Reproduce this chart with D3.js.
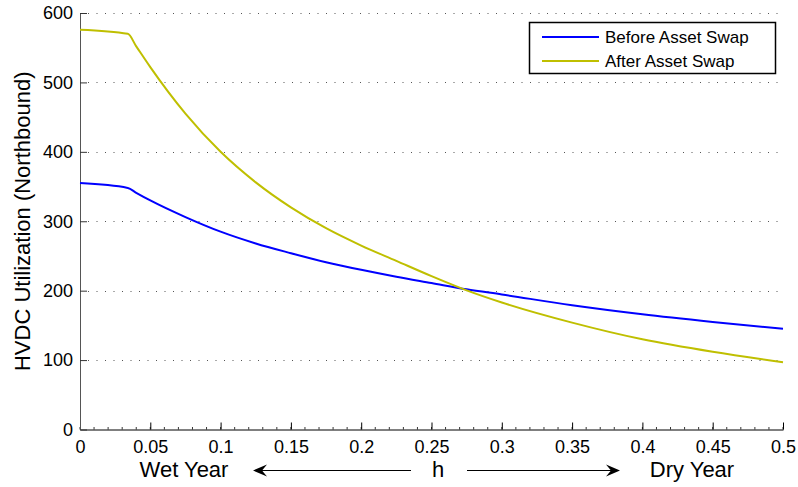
<!DOCTYPE html>
<html lang="en">
<head>
  <meta charset="UTF-8">
  <title>HVDC Utilization</title>
  <script src="https://d3js.org/d3.v7.min.js"></script>
  <style>
    body { margin: 0; background: #fff; font-family: "Liberation Sans", Arial, sans-serif; }
    svg { display: block; }
  </style>
</head>
<body>
  <svg width="798" height="487"></svg>

  <script>
    // h values
    const hValues = [0, 0.034, 0.04, 0.05, 0.075, 0.1, 0.125, 0.15, 0.175, 0.2, 0.225, 0.25, 0.275, 0.3, 0.35, 0.4, 0.45, 0.5];
    const beforeSwap = [355, 348, 341, 330, 306, 285, 268, 254, 241, 230, 220, 211, 202, 194.5, 179, 166, 155, 145];
    const afterSwap  = [576, 570, 552, 522, 455, 400, 356, 320, 290, 265, 243, 221, 200.5, 183, 154, 130, 112, 97];
    const seriesNames = ["Before Asset Swap", "After Asset Swap"];
    const seriesColors = ["#0000ff", "#bfbf00"];
    const xTicks = [0, 0.05, 0.1, 0.15, 0.2, 0.25, 0.3, 0.35, 0.4, 0.45, 0.5];
    const yTicks = [0, 100, 200, 300, 400, 500, 600];

    const svg = d3.select("svg");
    const x = d3.scaleLinear().domain([0, 0.5]).range([80, 783]);
    const y = d3.scaleLinear().domain([0, 600]).range([429.5, 13]);

    // dotted horizontal grid
    svg.append("g")
      .selectAll("line")
      .data(yTicks.filter(d => d > 0))
      .join("line")
      .attr("x1", x(0) + 8).attr("x2", x(0.5))
      .attr("y1", d => Math.round(y(d)) + 0.5).attr("y2", d => Math.round(y(d)) + 0.5)
      .attr("stroke", "#555")
      .attr("stroke-dasharray", "1,7.5");

    // x axis (ticks point up)
    const xAxis = svg.append("g")
      .attr("transform", `translate(0,${y(0)})`)
      .call(d3.axisBottom(x).tickValues(xTicks).tickSize(-7).tickFormat(d3.format("")).tickSizeOuter(0));
    xAxis.select(".domain").attr("stroke", "#000");
    xAxis.selectAll(".tick line").attr("stroke", "#000");
    xAxis.selectAll("text")
      .attr("y", 11).attr("dy", "0.71em")
      .attr("font-size", 18).attr("font-family", "Liberation Sans, Arial, sans-serif").attr("fill", "#000");

    // minor ticks
    svg.append("g")
      .selectAll("line")
      .data(d3.range(0, 51).map(i => i / 100))
      .join("line")
      .attr("x1", d => x(d)).attr("x2", d => x(d))
      .attr("y1", y(0)).attr("y2", y(0) - 2.5)
      .attr("stroke", "#000").attr("stroke-width", 0.8);

    // y axis (ticks point right)
    const yAxis = svg.append("g")
      .attr("transform", `translate(${x(0)},0)`)
      .call(d3.axisLeft(y).tickValues(yTicks).tickSize(-7).tickSizeOuter(0));
    yAxis.select(".domain").attr("stroke", "#555");
    yAxis.selectAll(".tick line").attr("stroke", "#333");
    yAxis.selectAll("text")
      .attr("x", -7)
      .attr("font-size", 18).attr("font-family", "Liberation Sans, Arial, sans-serif").attr("fill", "#000");

    // y label
    svg.append("text")
      .attr("transform", `translate(30,${(y(0) + y(600)) / 2}) rotate(-90)`)
      .attr("text-anchor", "middle")
      .attr("font-size", 22)
      .text("HVDC Utilization (Northbound)");

    // lines
    const line = d3.line()
      .x((d, i) => x(hValues[i]))
      .y(d => y(d))
      .curve(d3.curveMonotoneX);

    svg.append("g")
      .selectAll("path")
      .data([beforeSwap, afterSwap])
      .join("path")
      .attr("d", d => line(d))
      .attr("fill", "none")
      .attr("stroke", (d, i) => seriesColors[i])
      .attr("stroke-width", 2);

    // legend
    const legend = svg.append("g");
    legend.append("rect")
      .attr("x", 529.5).attr("y", 22.5).attr("width", 246).attr("height", 51)
      .attr("fill", "#fff").attr("stroke", "#000").attr("stroke-width", 1.5);
    const rows = legend.selectAll("g.row")
      .data(seriesNames)
      .join("g")
      .attr("class", "row")
      .attr("transform", (d, i) => `translate(0,${37 + i * 24})`);
    rows.append("line")
      .attr("x1", 542).attr("x2", 599)
      .attr("stroke", (d, i) => seriesColors[i]).attr("stroke-width", 2);
    rows.append("text")
      .attr("x", 605).attr("dy", "0.38em")
      .attr("font-size", 17)
      .text(d => d);

    // bottom annotation
    const ann = svg.append("g").attr("font-size", 22);
    ann.append("text").attr("x", 184).attr("y", 477).attr("text-anchor", "middle").text("Wet Year");
    ann.append("text").attr("x", 438).attr("y", 477).attr("text-anchor", "middle").text("h");
    ann.append("text").attr("x", 692).attr("y", 477).attr("text-anchor", "middle").text("Dry Year");

    const arrowY = 470.5;
    function arrow(from, tip) {
      const dir = Math.sign(tip - from);
      ann.append("line")
        .attr("x1", from).attr("x2", tip - dir * 6)
        .attr("y1", arrowY).attr("y2", arrowY)
        .attr("stroke", "#000").attr("stroke-width", 1);
      ann.append("path")
        .attr("d", `M${tip},${arrowY} L${tip - dir * 14},${arrowY - 6} L${tip - dir * 9},${arrowY} L${tip - dir * 14},${arrowY + 6} Z`)
        .attr("fill", "#000");
    }
    arrow(411, 253);
    arrow(467, 620);
  </script>
</body>
</html>
